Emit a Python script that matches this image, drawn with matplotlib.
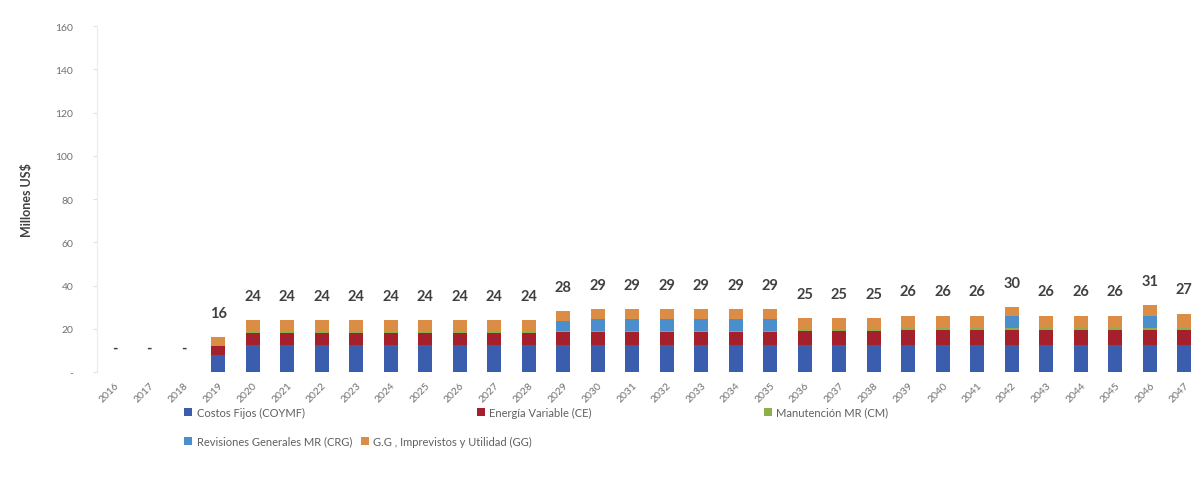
import numpy as np
import matplotlib.pyplot as plt
from matplotlib.ticker import FixedLocator, FuncFormatter

plt.rcParams['font.family'] = ['Lato', 'DejaVu Sans']

# Años del horizonte de evaluación
years = [str(y) for y in range(2016, 2048)]

# Componentes del costo anual (millones US$)
costos_fijos = [0, 0, 0, 8] + [12.5] * 9 + [12.5] * 7 + [12.5] * 3 + [12.5] * 3 + [12.5] + [12.5] * 3 + [12.5, 12.5]
energia_var = [0, 0, 0, 4] + [5.5] * 9 + [6] * 7 + [6.5] * 3 + [7] * 3 + [7] + [7] * 3 + [7, 7]
mantencion = [0, 0, 0, 0.5] + [0.5] * 9 + [0.5] * 7 + [1] * 3 + [1.5] * 3 + [1] + [1.5] * 3 + [1, 1.5]
revisiones = [0, 0, 0, 0] + [0] * 9 + [4.5] + [5.5] * 6 + [0] * 3 + [0] * 3 + [5.5] + [0] * 3 + [5.5, 0]
gg_imprev = [0, 0, 0, 3.5] + [5.5] * 9 + [4.5] * 7 + [5] * 3 + [5] * 3 + [4] + [5] * 3 + [5, 6]

series = [
    ('Costos Fijos (COYMF)', costos_fijos, '#3A5DAE'),
    ('Energía Variable (CE)', energia_var, '#A3202C'),
    ('Manutención MR (CM)', mantencion, '#8DB04A'),
    ('Revisiones Generales MR (CRG)', revisiones, '#4A8FCB'),
    ('G.G , Imprevistos y Utilidad (GG)', gg_imprev, '#DB8C45'),
]

x = np.arange(len(years))

fig = plt.figure(figsize=(12.03, 5.02), dpi=100)
ax = fig.add_axes([0.0806, 0.257, 0.9194, 0.689])

bottom = np.zeros(len(years))
handles = {}
for name, vals, color in series:
    vals = np.array(vals, dtype=float)
    b = ax.bar(x, vals, width=0.4, bottom=bottom, color=color, label=name, linewidth=0)
    handles[name] = b
    bottom += vals

# Etiquetas con el total de cada año
for xi, tot in zip(x, bottom):
    txt = '-' if tot == 0 else f'{tot:.0f}'
    ax.annotate(txt, (xi, tot), xytext=(0, 17.5), textcoords='offset points',
                ha='center', va='center', fontsize=10.5, fontweight='bold',
                color='#404040', annotation_clip=False)

ax.set_xlim(-0.51, 31.54)
ax.set_ylim(0, 160)
ax.yaxis.set_major_locator(FixedLocator(np.arange(0, 161, 20)))
ax.yaxis.set_major_formatter(FuncFormatter(lambda v, p: '-' if v == 0 else f'{v:.0f}'))
ax.set_xticks(x)
ax.set_xticklabels(years, rotation=45, ha='right', rotation_mode='anchor')
ax.tick_params(axis='x', length=0, labelsize=7.5, labelcolor='#707070', pad=6)
ax.tick_params(axis='y', length=3, color='#E0E0E0', labelsize=7.5, labelcolor='#707070', pad=14)

for s in ['top', 'right', 'bottom']:
    ax.spines[s].set_visible(False)
ax.spines['left'].set_color('#EBEBEB')

ax.set_ylabel('Millones US$', fontsize=9, fontweight='bold', color='#404040', labelpad=16)

# Leyenda en dos filas
names = [s[0] for s in series]
row1 = [handles[n] for n in names[:3]]
row2 = [handles[n] for n in names[3:]]
leg1 = fig.legend(row1, names[:3], loc='upper left', bbox_to_anchor=(0.145, 0.208),
                  ncol=3, frameon=False, fontsize=8, handlelength=0.7, handleheight=0.7,
                  handletextpad=0.4, columnspacing=15.5, labelcolor='#606060')
leg2 = fig.legend(row2, names[3:], loc='upper left', bbox_to_anchor=(0.145, 0.150),
                  ncol=2, frameon=False, fontsize=8, handlelength=0.7, handleheight=0.7,
                  handletextpad=0.4, columnspacing=0.8, labelcolor='#606060')

fig.savefig('out.png', dpi=100)
